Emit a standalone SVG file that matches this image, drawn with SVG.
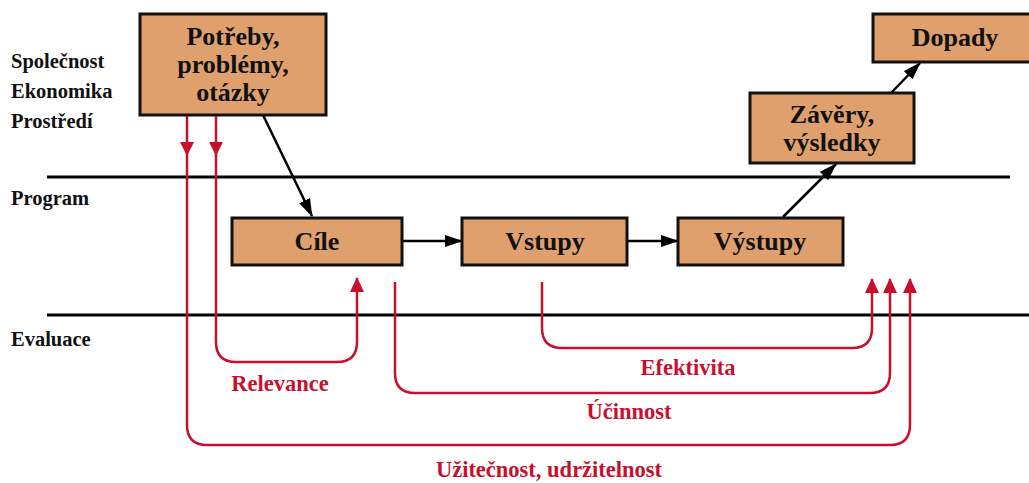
<svg xmlns="http://www.w3.org/2000/svg" width="1029" height="483" viewBox="0 0 1029 483">
<style>
.box{fill:#DFA06E;stroke:#111;stroke-width:3}
.bt{font-family:"Liberation Serif",serif;font-weight:bold;font-size:26px;fill:#111;text-anchor:middle}
.side{font-family:"Liberation Serif",serif;font-weight:bold;font-size:20.5px;fill:#111}
.rt{font-family:"Liberation Serif",serif;font-weight:bold;font-size:22.5px;fill:#C8102E;text-anchor:middle}
.sep{stroke:#000;stroke-width:3}
.blk{stroke:#000;stroke-width:2.5;fill:none}
.red{stroke:#C8102E;stroke-width:2.5;fill:none}
</style>
<defs>
<marker id="ab" viewBox="0 0 18 12" markerWidth="18" markerHeight="12" refX="17" refY="6" orient="auto" markerUnits="userSpaceOnUse"><path d="M0,0 L18,6 L0,12 z" fill="#000"/></marker>
<marker id="ar" viewBox="0 0 15 14" markerWidth="15" markerHeight="14" refX="14" refY="7" orient="auto" markerUnits="userSpaceOnUse"><path d="M0,0 L15,7 L0,14 z" fill="#C8102E"/></marker>
</defs>
<rect width="1029" height="483" fill="#fff"/>
<g id="labels">
<text class="side" x="11" y="68">Společnost</text>
<text class="side" x="11" y="98">Ekonomika</text>
<text class="side" x="11" y="128">Prostředí</text>
<text class="side" x="11" y="205">Program</text>
<text class="side" x="11" y="346">Evaluace</text>
</g>
<g id="separators">
<line class="sep" x1="47" y1="177" x2="1010" y2="177"/>
<line class="sep" x1="47" y1="315" x2="1029" y2="315"/>
</g>
<g id="connectors">
<line class="blk" x1="263" y1="115" x2="312" y2="216" marker-end="url(#ab)"/>
<line class="blk" x1="402" y1="241" x2="462" y2="241" marker-end="url(#ab)"/>
<line class="blk" x1="627" y1="241" x2="678" y2="241" marker-end="url(#ab)"/>
<line class="blk" x1="783" y1="217" x2="836" y2="164" marker-end="url(#ab)"/>
<line class="blk" x1="891" y1="93" x2="920" y2="63" marker-end="url(#ab)"/>
<path class="red" d="M187,115 V425 Q187,445 207,445 H890 Q910,445 910,425 V279" marker-end="url(#ar)"/>
<path class="red" d="M216,115 V342 Q216,362 236,362 H337 Q357,362 357,342 V278" marker-end="url(#ar)"/>
<path class="red" d="M395,282 V373 Q395,393 415,393 H870 Q890,393 890,373 V279" marker-end="url(#ar)"/>
<path class="red" d="M542,282 V328 Q542,348 562,348 H852 Q872,348 872,328 V279" marker-end="url(#ar)"/>
<polygon points="180,142 194,142 187,156" fill="#C8102E"/>
<polygon points="209,142 223,142 216,156" fill="#C8102E"/>
</g>
<g id="n-potreby">
<rect class="box" x="140" y="14" width="186" height="101"/>
<text class="bt" x="233" y="45">Potřeby,</text>
<text class="bt" x="233" y="73">problémy,</text>
<text class="bt" x="233" y="101">otázky</text>
</g>
<g id="n-cile">
<rect class="box" x="232" y="218" width="170" height="47"/>
<text class="bt" x="317" y="250">Cíle</text>
</g>
<g id="n-vstupy">
<rect class="box" x="462" y="218" width="165" height="47"/>
<text class="bt" x="545" y="250">Vstupy</text>
</g>
<g id="n-vystupy">
<rect class="box" x="678" y="218" width="165" height="47"/>
<text class="bt" x="760" y="250">Výstupy</text>
</g>
<g id="n-zavery">
<rect class="box" x="750" y="93" width="164" height="70"/>
<text class="bt" x="832" y="123">Závěry,</text>
<text class="bt" x="832" y="151">výsledky</text>
</g>
<g id="n-dopady">
<rect class="box" x="873" y="14" width="160" height="48"/>
<text class="bt" x="955" y="46">Dopady</text>
</g>
<g id="eval-labels">
<text class="rt" x="280" y="391">Relevance</text>
<text class="rt" x="688" y="375">Efektivita</text>
<text class="rt" x="629" y="419">Účinnost</text>
<text class="rt" x="549" y="477">Užitečnost, udržitelnost</text>
</g>
</svg>
